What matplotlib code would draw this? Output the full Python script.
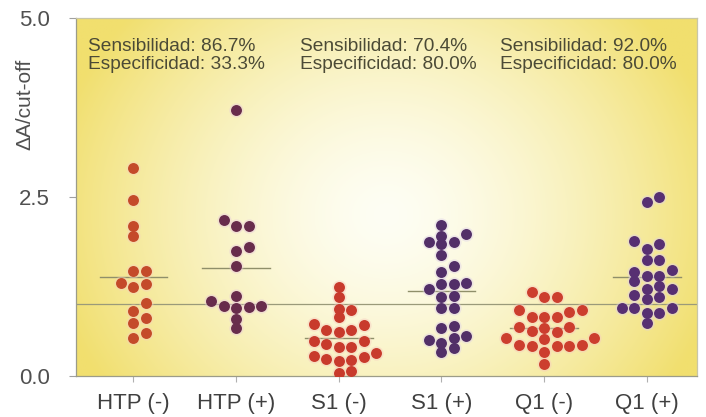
"""Dot plot of normalised absorbance (dA/cut-off) for HTP, S1 and Q1 groups."""

import numpy as np
import matplotlib

matplotlib.use("Agg")
import matplotlib.pyplot as plt
from matplotlib.colors import to_rgb

plt.rcParams["font.family"] = ["Liberation Sans", "DejaVu Sans"]

CATEGORIES = ["HTP (-)", "HTP (+)", "S1 (-)", "S1 (+)", "Q1 (-)", "Q1 (+)"]

htp_neg = [2.91, 2.46, 2.10, 1.95, 1.47, 1.47, 1.28, 1.30, 1.24, 1.02,
           0.91, 0.81, 0.74, 0.60, 0.53]
htp_pos = [3.71, 2.18, 2.09, 2.09, 1.80, 1.75, 1.54, 1.12, 1.05, 0.98,
           0.96, 0.95, 0.98, 0.79, 0.67]
s1_neg = [1.25, 1.11, 0.94, 0.92, 0.82, 0.71, 0.72, 0.64, 0.61, 0.64,
          0.49, 0.49, 0.41, 0.40, 0.44, 0.32, 0.28, 0.24, 0.22, 0.27,
          0.21, 0.04, 0.07]
s1_pos = [2.11, 1.98, 1.96, 1.87, 1.84, 1.87, 1.69, 1.53, 1.45, 1.28,
          1.30, 1.28, 1.22, 1.11, 1.12, 0.95, 0.95, 0.70, 0.67, 0.56,
          0.53, 0.50, 0.46, 0.34, 0.39]
q1_neg = [1.17, 1.10, 1.11, 0.90, 0.92, 0.92, 0.82, 0.82, 0.83, 0.69,
          0.67, 0.69, 0.63, 0.62, 0.53, 0.53, 0.52, 0.43, 0.42, 0.42,
          0.42, 0.43, 0.34, 0.17]
q1_pos = [2.50, 2.43, 1.84, 1.89, 1.78, 1.62, 1.62, 1.48, 1.45, 1.40,
          1.39, 1.32, 1.26, 1.22, 1.21, 1.13, 1.11, 1.08, 0.95, 0.88,
          0.95, 0.95, 0.88, 0.74]

GROUPS = [htp_neg, htp_pos, s1_neg, s1_pos, q1_neg, q1_pos]
DOT_COLORS = ["#c44a2a", "#682c4c", "#c83a2c", "#522f68", "#cc3e2e", "#572f72"]
HALO_COLORS = ["#f6d2bc", "#e8cadb", "#f6cabe", "#ddd0e8", "#f6cabe", "#ddd0e8"]

CUTOFF = 1.0
SENSITIVITY = ["86.7%", "70.4%", "92.0%"]
SPECIFICITY = ["33.3%", "80.0%", "80.0%"]

Y_TICKS = [0.0, 2.5, 5.0]

FIG_W, FIG_H = 706, 417
AX_BOX = [76 / FIG_W, 1 - 376 / FIG_H, 621 / FIG_W, 358 / FIG_H]


def swarm_offsets(values, step, px_x, px_y, diam):
    """Greedy column swarm: lowest values first, alternate sides when crowded."""
    values = np.asarray(values, dtype=float)
    offsets = np.zeros(len(values))
    placed = []
    cols = [0] + [s * j for j in range(1, 10) for s in (1, -1)]
    for i in np.argsort(values, kind="stable"):
        y = values[i]
        for c in cols:
            if all(np.hypot((c - pc) * step * px_x, (y - py) * px_y) >= diam
                   for pc, py in placed):
                break
        placed.append((c, y))
        offsets[i] = c * step
    return offsets


fig = plt.figure(figsize=(FIG_W / 100, FIG_H / 100), dpi=100)
ax = fig.add_axes(AX_BOX)

xlim = (0.44, 6.49)
ylim = (0.0, 5.0)
ax.set_xlim(*xlim)
ax.set_ylim(*ylim)

# pale-centred yellow backdrop
gx, gy = np.meshgrid(np.linspace(0, 1, 400), np.linspace(0, 1, 250))
r = np.sqrt(((gx - 0.5) / 0.55) ** 2 + ((gy - 0.45) / 0.85) ** 2)
t = np.clip(r, 0, 1) ** 1.5
pale = np.array(to_rgb("#fefef4"))
deep = np.array(to_rgb("#f1df6e"))
bg = pale[None, None, :] * (1 - t[..., None]) + deep[None, None, :] * t[..., None]
ax.imshow(bg, extent=(*xlim, *ylim), origin="lower", aspect="auto", zorder=0)

# cut-off line
ax.axhline(CUTOFF, color="#9a9a7a", lw=0.9, zorder=1)

px_x = AX_BOX[2] * FIG_W / (xlim[1] - xlim[0])
px_y = AX_BOX[3] * FIG_H / (ylim[1] - ylim[0])

for pos, (vals, col, halo) in enumerate(zip(GROUPS, DOT_COLORS, HALO_COLORS), start=1):
    vals = np.asarray(vals)
    xs = pos + swarm_offsets(vals, 0.122, px_x, px_y, 8.0)
    ax.scatter(xs, vals, s=105, color=halo, alpha=0.45, lw=0, zorder=2)
    ax.scatter(xs, vals, s=62, color=col, lw=0, zorder=3)
    mean = vals.mean()
    ax.plot([pos - 0.33, pos + 0.33], [mean, mean], color="#8f8f6a", lw=1.0, zorder=1.5)

# sensitivity / specificity notes
note_x_px = [88, 300, 500]
for x_px, sens, spec in zip(note_x_px, SENSITIVITY, SPECIFICITY):
    ax.text((x_px - 76) / 621, 0.945, f"Sensibilidad: {sens}\nEspecificidad: {spec}",
            transform=ax.transAxes, ha="left", va="top", fontsize=13.8,
            color="#4b4a36", linespacing=1.12, zorder=4)

ax.set_xticks(range(1, len(CATEGORIES) + 1), labels=CATEGORIES)
ax.set_yticks(Y_TICKS, labels=[f"{v:.1f}" for v in Y_TICKS])
ax.tick_params(axis="y", length=5, width=0.8, color="#a0a0a0", pad=14,
               labelsize=16, labelcolor="#505050")
ax.tick_params(axis="x", length=4, width=0.8, color="#b0b0b0", pad=8,
               labelsize=16, labelcolor="#404040")

for side, spine in ax.spines.items():
    spine.set_color("#c8c6a8" if side in ("top", "right") else "#9c9c88")
    spine.set_linewidth(0.9)

fig.text(25 / FIG_W, 1 - 104 / FIG_H, "\u0394A/cut-off", rotation=90,
         ha="center", va="center", fontsize=15, color="#505050")

fig.savefig("out.png", dpi=100)
